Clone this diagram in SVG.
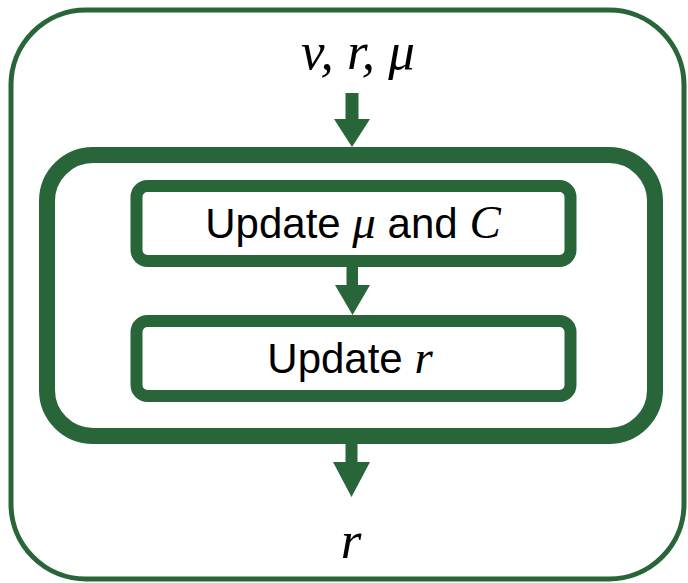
<svg xmlns="http://www.w3.org/2000/svg" width="688" height="583" viewBox="0 0 688 583">
  <style>
    .box { fill: #ffffff; stroke: #286538; }
    .arrow { fill: #286538; stroke: none; }
    .label { font-family: "Liberation Sans", Arial, sans-serif; font-size: 42px; fill: #000000; }
    .math { font-family: "Liberation Serif", "DejaVu Serif", serif; font-style: italic; fill: #000000; }
  </style>
  <rect width="688" height="583" fill="#ffffff"/>
  <g id="outer">
    <rect class="box" x="11" y="10" width="673" height="569" rx="75" ry="75" stroke-width="5"/>
  </g>
  <g id="input-label">
    <text class="math" x="358" y="69" font-size="53" text-anchor="middle">v, r, μ</text>
  </g>
  <g id="loop">
    <rect class="box" x="47" y="155" width="608" height="281" rx="46" ry="46" stroke-width="16"/>
  </g>
  <g id="update-mu-c">
    <rect class="box" x="136.5" y="186" width="434" height="75" rx="11" ry="11" stroke-width="12"/>
    <text class="label" x="353" y="238" text-anchor="middle">Update <tspan class="math" font-size="47">μ</tspan> and <tspan class="math" font-size="47">C</tspan></text>
  </g>
  <g id="update-r">
    <rect class="box" x="136.5" y="321" width="434" height="75" rx="11" ry="11" stroke-width="12"/>
    <text class="label" x="350" y="373" text-anchor="middle">Update <tspan class="math" font-size="47">r</tspan></text>
  </g>
  <g id="output-label">
    <text class="math" x="351" y="558" font-size="53" text-anchor="middle">r</text>
  </g>
  <g id="connectors">
    <polygon class="arrow" points="345.5,93 358.5,93 358.5,119 370,119 352,147 334,119 345.5,119"/>
    <polygon class="arrow" points="346.5,266 358,266 358,285 370,285 352.5,315 335,285 346.5,285"/>
    <polygon class="arrow" points="345.5,442 357.5,442 357.5,462 370,462 351.5,497 333,462 345.5,462"/>
  </g>
</svg>
